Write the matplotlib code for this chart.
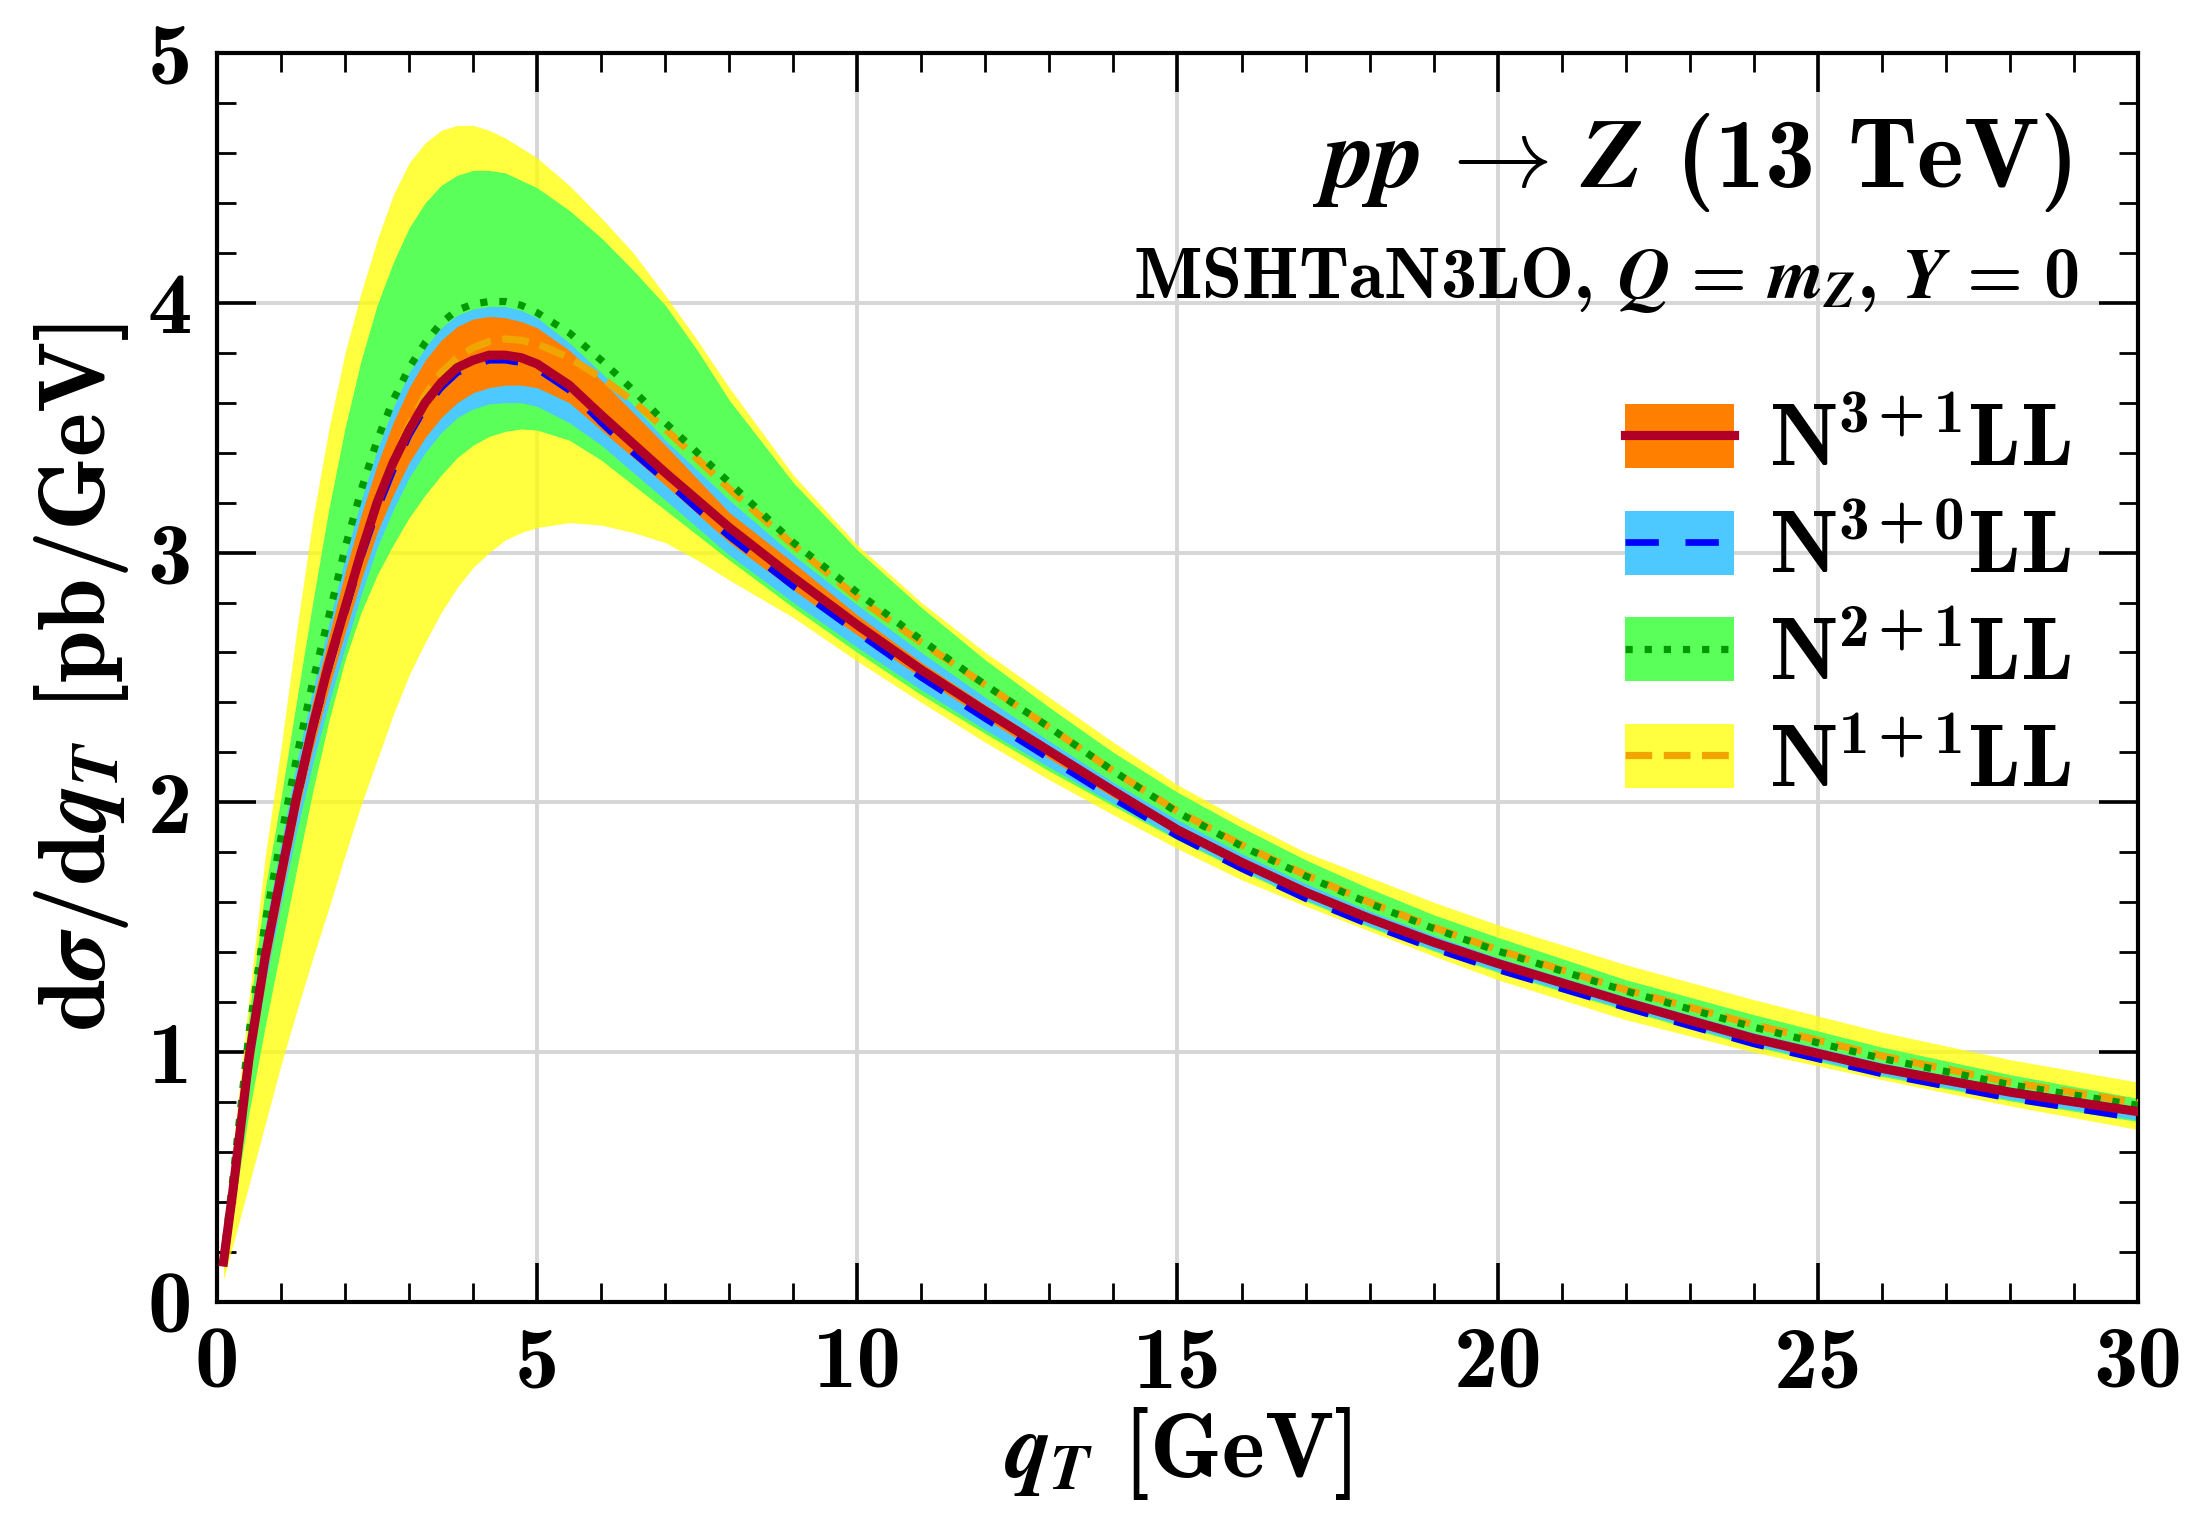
import matplotlib
matplotlib.use("Agg")
import matplotlib.pyplot as plt
from matplotlib.patches import Patch
from matplotlib.lines import Line2D
from matplotlib.ticker import MultipleLocator

# ---------------- data ----------------
qt = [0.1, 0.25, 0.5, 0.75, 1.0, 1.25, 1.5, 1.75, 2.0, 2.25, 2.5, 2.75, 3.0, 3.25,
      3.5, 3.75, 4.0, 4.25, 4.5, 4.75, 5.0, 5.5, 6.0, 6.5, 7.0, 7.5, 8.0, 9.0, 10,
      11, 12, 13, 14, 15, 16, 17, 18, 19, 20, 22, 24, 26, 28, 30]

# N3+1LL
n31_c = [0.16, 0.45, 0.98, 1.38, 1.71, 2.03, 2.31, 2.56, 2.78, 3.00, 3.20, 3.36, 3.49, 3.60,
         3.68, 3.74, 3.77, 3.79, 3.79, 3.78, 3.755, 3.67, 3.55, 3.435, 3.32, 3.21, 3.10, 2.90,
         2.71, 2.53, 2.365, 2.205, 2.045, 1.89, 1.76, 1.64, 1.535, 1.44, 1.355, 1.20, 1.055,
         0.935, 0.84, 0.762]
n31_lo = [0.15, 0.42, 0.93, 1.33, 1.65, 1.95, 2.22, 2.46, 2.68, 2.89, 3.08, 3.23, 3.36, 3.46,
          3.54, 3.60, 3.64, 3.66, 3.67, 3.67, 3.66, 3.60, 3.49, 3.38, 3.27, 3.155, 3.04, 2.85,
          2.67, 2.50, 2.335, 2.175, 2.02, 1.875, 1.745, 1.625, 1.52, 1.425, 1.34, 1.185, 1.04,
          0.92, 0.827, 0.75]
n31_hi = [0.165, 0.47, 1.03, 1.46, 1.80, 2.12, 2.41, 2.67, 2.92, 3.15, 3.35, 3.52, 3.66, 3.77,
          3.85, 3.905, 3.935, 3.945, 3.94, 3.925, 3.90, 3.81, 3.69, 3.56, 3.43, 3.295, 3.16, 2.96,
          2.75, 2.56, 2.39, 2.225, 2.065, 1.91, 1.78, 1.66, 1.553, 1.457, 1.37, 1.215, 1.07,
          0.95, 0.853, 0.772]

# N3+0LL
n30_c = [0.16, 0.44, 0.96, 1.37, 1.70, 2.01, 2.29, 2.54, 2.76, 2.98, 3.17, 3.33, 3.47, 3.58,
         3.66, 3.72, 3.75, 3.77, 3.77, 3.76, 3.735, 3.65, 3.52, 3.40, 3.29, 3.175, 3.065, 2.865,
         2.68, 2.50, 2.335, 2.175, 2.015, 1.865, 1.735, 1.615, 1.51, 1.415, 1.33, 1.178, 1.033,
         0.913, 0.815, 0.735]
n30_lo = [0.14, 0.40, 0.88, 1.27, 1.59, 1.89, 2.16, 2.40, 2.62, 2.83, 3.02, 3.17, 3.30, 3.40,
          3.48, 3.54, 3.575, 3.595, 3.60, 3.60, 3.585, 3.52, 3.43, 3.32, 3.21, 3.10, 2.99, 2.80,
          2.62, 2.45, 2.29, 2.14, 1.995, 1.855, 1.73, 1.61, 1.505, 1.41, 1.325, 1.172, 1.028,
          0.908, 0.81, 0.728]
n30_hi = [0.17, 0.49, 1.06, 1.50, 1.84, 2.17, 2.46, 2.72, 2.98, 3.21, 3.41, 3.58, 3.72, 3.82,
          3.90, 3.95, 3.975, 3.985, 3.985, 3.97, 3.94, 3.84, 3.72, 3.59, 3.45, 3.33, 3.21, 2.99,
          2.79, 2.60, 2.42, 2.245, 2.08, 1.93, 1.795, 1.675, 1.565, 1.468, 1.378, 1.222, 1.078,
          0.958, 0.858, 0.775]

# N2+1LL
n21_c = [0.17, 0.50, 1.08, 1.52, 1.86, 2.19, 2.49, 2.75, 3.02, 3.25, 3.45, 3.61, 3.74, 3.84,
         3.92, 3.97, 3.995, 4.005, 4.005, 3.99, 3.96, 3.88, 3.77, 3.65, 3.52, 3.40, 3.28, 3.04,
         2.84, 2.65, 2.47, 2.30, 2.125, 1.96, 1.825, 1.705, 1.595, 1.495, 1.405, 1.245, 1.10,
         0.975, 0.87, 0.787]
n21_lo = [0.13, 0.36, 0.76, 1.10, 1.42, 1.74, 2.05, 2.33, 2.57, 2.76, 2.91, 3.03, 3.14, 3.23,
          3.31, 3.38, 3.43, 3.465, 3.485, 3.495, 3.49, 3.45, 3.37, 3.27, 3.17, 3.07, 2.97, 2.78,
          2.60, 2.43, 2.275, 2.125, 1.985, 1.85, 1.725, 1.605, 1.50, 1.405, 1.32, 1.167, 1.023,
          0.903, 0.805, 0.722]
n21_hi = [0.19, 0.55, 1.15, 1.65, 2.02, 2.42, 2.81, 3.18, 3.50, 3.77, 3.99, 4.16, 4.30, 4.40,
          4.47, 4.51, 4.53, 4.53, 4.52, 4.49, 4.46, 4.37, 4.26, 4.13, 3.99, 3.81, 3.61, 3.28,
          3.01, 2.78, 2.57, 2.38, 2.20, 2.04, 1.90, 1.77, 1.655, 1.55, 1.46, 1.29, 1.15,
          1.02, 0.91, 0.815]

# N1+1LL
n11_c = [0.15, 0.43, 0.95, 1.35, 1.68, 2.00, 2.29, 2.55, 2.78, 3.00, 3.20, 3.37, 3.51, 3.63,
         3.72, 3.78, 3.82, 3.845, 3.855, 3.85, 3.835, 3.78, 3.70, 3.605, 3.495, 3.375, 3.255, 3.03,
         2.82, 2.64, 2.47, 2.30, 2.125, 1.965, 1.83, 1.71, 1.60, 1.50, 1.41, 1.25, 1.11,
         0.985, 0.88, 0.797]
n11_lo = [0.09, 0.23, 0.47, 0.71, 0.95, 1.17, 1.38, 1.58, 1.79, 1.99, 2.17, 2.35, 2.51, 2.64,
          2.76, 2.86, 2.94, 3.00, 3.05, 3.08, 3.10, 3.12, 3.11, 3.08, 3.04, 2.97, 2.89, 2.74,
          2.565, 2.40, 2.24, 2.09, 1.95, 1.815, 1.69, 1.585, 1.485, 1.385, 1.29, 1.13, 1.00,
          0.89, 0.785, 0.69]
n11_hi = [0.22, 0.62, 1.22, 1.78, 2.22, 2.70, 3.14, 3.50, 3.80, 4.04, 4.25, 4.43, 4.56, 4.64,
          4.69, 4.71, 4.71, 4.69, 4.66, 4.62, 4.58, 4.47, 4.34, 4.20, 4.03, 3.85, 3.66, 3.31,
          3.03, 2.80, 2.60, 2.42, 2.24, 2.07, 1.93, 1.80, 1.70, 1.60, 1.51, 1.35, 1.21,
          1.08, 0.97, 0.88]

labels = [r'N$^{3\,{+}\,1}$LL', r'N$^{3\,{+}\,0}$LL', r'N$^{2\,{+}\,1}$LL', r'N$^{1\,{+}\,1}$LL']

# ---------------- style ----------------
plt.rcParams['font.family'] = 'cmb10'
plt.rcParams['mathtext.fontset'] = 'custom'
plt.rcParams['mathtext.rm'] = 'cmb10'
plt.rcParams['mathtext.bf'] = 'cmb10'
plt.rcParams['mathtext.it'] = 'STIXGeneral:italic:bold'
plt.rcParams['mathtext.fallback'] = 'cm'
plt.rcParams['axes.unicode_minus'] = False

fig = plt.figure(figsize=(10.985, 7.565), dpi=200)
ax = fig.add_axes([0.0988, 0.1395, 0.8743, 0.8255])

# bands (widest first)
ax.fill_between(qt, n11_lo, n11_hi, color='#ffff00', alpha=0.75, lw=0, zorder=1)
ax.fill_between(qt, n21_lo, n21_hi, color='#5aff5a', lw=0, zorder=1.1)
ax.fill_between(qt, n30_lo, n30_hi, color='#4dc9ff', lw=0, zorder=1.2)
ax.fill_between(qt, n31_lo, n31_hi, color='#ff8000', lw=0, zorder=1.3)

# central lines
ax.plot(qt, n11_c, color='#f0a500', lw=2.6, ls='--', zorder=3)
ax.plot(qt, n21_c, color='#009a00', lw=2.6, ls=':', zorder=3.1)
ax.plot(qt, n30_c, color='#0000ff', lw=2.4, dashes=(5, 4), zorder=3.2)
ax.plot(qt, n31_c, color='#b00028', lw=3.3, zorder=3.3)

ax.set_xlim(0, 30)
ax.set_ylim(0, 5)
ax.xaxis.set_major_locator(MultipleLocator(5))
ax.xaxis.set_minor_locator(MultipleLocator(1))
ax.yaxis.set_major_locator(MultipleLocator(1))
ax.yaxis.set_minor_locator(MultipleLocator(0.2))
ax.tick_params(which='both', direction='in', top=True, right=True, labelsize=32)
ax.tick_params(which='major', length=14, width=1.3, pad=9)
ax.tick_params(which='minor', length=7, width=1.0)
for s in ax.spines.values():
    s.set_linewidth(1.5)
ax.grid(True, which='major', color='#d6d6d6', lw=1.4)
ax.set_axisbelow(True)

ax.set_xlabel(r'$q_T$ [GeV]', fontsize=33, labelpad=0)
ax.set_ylabel(r'd$\sigma$/d$q_T$ [pb/GeV]', fontsize=34, labelpad=6)

ax.text(0.965, 0.893, r'$pp\,\rightarrow\,Z$ (13 TeV)', transform=ax.transAxes,
        ha='right', va='baseline', fontsize=36)
ax.text(0.969, 0.804, r'MSHTaN3LO, $Q\,=\,m_Z$, $Y\,=\,0$', transform=ax.transAxes,
        ha='right', va='baseline', fontsize=26)

handles = [
    (Patch(facecolor='#ff8000', lw=0), Line2D([], [], color='#b00028', lw=3.3)),
    (Patch(facecolor='#4dc9ff', lw=0), Line2D([], [], color='#0000ff', lw=2.4, dashes=(5, 4))),
    (Patch(facecolor='#5aff5a', lw=0), Line2D([], [], color='#009a00', lw=2.6, ls=':')),
    (Patch(facecolor='#ffff00', alpha=0.75, lw=0), Line2D([], [], color='#f0a500', lw=2.6, ls='--')),
]
ax.legend(handles, labels, loc='upper left', bbox_to_anchor=(0.733, 0.719),
          frameon=False, fontsize=31.5, handlelength=1.25, handleheight=0.75,
          handletextpad=0.4, labelspacing=0.31, borderpad=0, borderaxespad=0)

fig.savefig('out.png', dpi=200)
